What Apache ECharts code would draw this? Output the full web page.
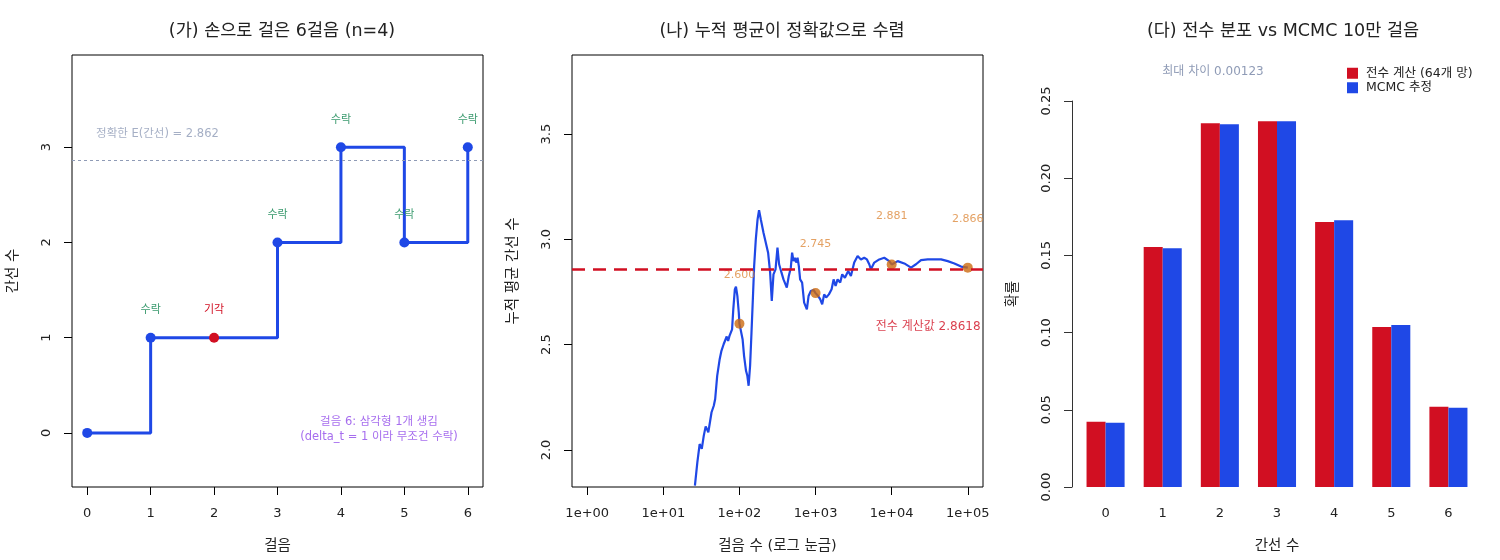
<!DOCTYPE html>
<html>
<head>
<meta charset="utf-8">
<script src="https://cdn.jsdelivr.net/npm/echarts@6.0.0/dist/echarts.min.js"></script>
<style>
  html, body { margin: 0; padding: 0; background: #fff; }
  #chart { width: 1500px; height: 560px; }
</style>
</head>
<body>
<div id="chart"></div>
<script>
// (가) hand walk
const walkSteps = [0, 1, 2, 3, 4, 5, 6];
const walkEdges = [0, 1, 1, 2, 3, 2, 3];
const walkStatus = ['', '수락', '기각', '수락', '수락', '수락', '수락'];
const exactMean = 2.8618;

// (나) running mean
const traceSteps = [26, 28, 30, 32, 34, 36, 39, 40, 43, 46,
    48, 51, 55, 58, 62, 65, 68, 71, 74, 77,
    80, 83, 87, 90, 94, 98, 100, 110, 115, 122,
    127, 132, 138, 144, 150, 156, 164, 173, 181, 191,
    207, 222, 238, 253, 266, 280, 298, 316, 332, 357,
    379, 395, 419, 445, 473, 492, 514, 534, 556, 580,
    603, 627, 666, 708, 769, 809, 867, 942, 1000, 1082,
    1150, 1222, 1298, 1378, 1497, 1625, 1726, 1833, 1946, 2108,
    2239, 2430, 2686, 2913, 3221, 3570, 3945, 4357, 4731, 5075,
    5345, 5906, 6870, 7993, 9298, 10000, 11995, 14655, 17950, 20880,
    24300, 29780, 36360, 44550, 54550, 66680, 81660, 100000];
const traceMeans = [1.831, 1.942, 2.028, 2.005, 2.068, 2.112, 2.084, 2.084, 2.179, 2.210,
    2.242, 2.352, 2.431, 2.471, 2.502, 2.510, 2.539, 2.518, 2.542, 2.534,
    2.573, 2.668, 2.763, 2.776, 2.731, 2.653, 2.600, 2.526, 2.447, 2.376,
    2.352, 2.305, 2.400, 2.558, 2.716, 2.873, 3.000, 3.095, 3.139, 3.095,
    3.032, 2.984, 2.937, 2.842, 2.708, 2.834, 2.858, 2.961, 2.882, 2.842,
    2.810, 2.818, 2.771, 2.826, 2.866, 2.937, 2.897, 2.913, 2.890, 2.913,
    2.873, 2.810, 2.795, 2.700, 2.668, 2.731, 2.755, 2.760, 2.745, 2.731,
    2.716, 2.692, 2.739, 2.724, 2.739, 2.763, 2.810, 2.779, 2.810, 2.795,
    2.834, 2.818, 2.850, 2.826, 2.890, 2.921, 2.905, 2.913, 2.905, 2.882,
    2.858, 2.890, 2.905, 2.913, 2.897, 2.881, 2.897, 2.886, 2.866, 2.882,
    2.902, 2.905, 2.905, 2.905, 2.897, 2.886, 2.871, 2.866];
const checkSteps = [100, 1000, 10000, 100000];
const checkMeans = [2.600, 2.745, 2.881, 2.866];

// (다) distribution
const edgeCounts = ['0', '1', '2', '3', '4', '5', '6'];
const exactProb = [0.0422, 0.1554, 0.2356, 0.2369, 0.1716, 0.1037, 0.0519];
const mcmcProb = [0.0416, 0.1547, 0.2349, 0.2369, 0.1728, 0.1050, 0.0513];
const maxDiff = 0.00123;

const FONT = '"DejaVu Sans", "Noto Sans CJK KR", sans-serif';
const BLUE = '#1f48e6';
const RED = '#d10f22';
const GREEN = '#3a9a6e';
const ORANGE = '#cc6a10';
const PURPLE = '#9048ea';
const GREY = '#8f9bb6';

const chart = echarts.init(document.getElementById('chart'), null, {renderer: 'canvas'});

const tickStyle = {show: true, length: 8, lineStyle: {color: '#000'}};
const labelStyle = {color: '#222', fontSize: 13, fontFamily: FONT};
const nameStyle = {color: '#222', fontSize: 14.5, fontFamily: FONT};

function boxAxis(grid, ticks, extra) {
    return Object.assign({
        gridIndex: grid,
        type: 'value',
        axisLine: {show: false, onZero: false},
        axisTick: Object.assign({customValues: ticks}, tickStyle),
        splitLine: {show: false},
        nameLocation: 'middle',
        nameTextStyle: nameStyle
    }, extra);
}

const walkData = walkSteps.map((s, i) => {
    const rejected = walkStatus[i] === '기각';
    return {
        value: [s, walkEdges[i]],
        itemStyle: {color: rejected ? RED : BLUE},
        label: {
            show: walkStatus[i] !== '',
            formatter: walkStatus[i],
            color: rejected ? RED : GREEN
        }
    };
});

const option = {
    animation: false,
    backgroundColor: '#fff',
    textStyle: {fontFamily: FONT},
    title: [
        {text: '(가) 손으로 걸은 6걸음 (n=4)', left: 277, top: 18, textAlign: 'center'},
        {text: '(나) 누적 평균이 정확값으로 수렴', left: 777, top: 18, textAlign: 'center'},
        {text: '(다) 전수 분포 vs MCMC 10만 걸음', left: 1278, top: 18, textAlign: 'center'}
    ].map(t => Object.assign(t, {textStyle: {fontSize: 17.5, fontWeight: 'normal', color: '#222', fontFamily: FONT}})),
    legend: {
        orient: 'vertical',
        left: 1342,
        top: 62,
        itemWidth: 11,
        itemHeight: 11,
        itemGap: 2,
        icon: 'rect',
        textStyle: {fontSize: 12.5, color: '#222', fontFamily: FONT, padding: [0, 0, 0, 3]},
        data: ['전수 계산 (64개 망)', 'MCMC 추정']
    },
    graphic: [{
        type: 'text',
        x: 1213,
        y: 72,
        style: {
            text: '최대 차이 ' + maxDiff.toFixed(5), fill: GREY, font: '12px ' + FONT,
            align: 'center', verticalAlign: 'middle'
        }
    }],
    grid: [
        {left: 72, top: 55, width: 411, height: 432, show: true, borderColor: '#000', borderWidth: 1},
        {left: 572, top: 55, width: 411, height: 432, show: true, borderColor: '#000', borderWidth: 1},
        {left: 1077, top: 101, width: 400, height: 386}
    ],
    xAxis: [
        boxAxis(0, walkSteps, {
            min: -0.24, max: 6.24, name: '걸음', nameGap: 52,
            axisLabel: Object.assign({margin: 20, customValues: walkSteps}, labelStyle)
        }),
        boxAxis(1, [0, 1, 2, 3, 4, 5], {
            min: -0.2, max: 5.2, name: '걸음 수 (로그 눈금)', nameGap: 52,
            axisLabel: Object.assign({
                margin: 20,
                customValues: [0, 1, 2, 3, 4, 5],
                formatter: v => '1e+' + String(Math.round(v)).padStart(2, '0')
            }, labelStyle)
        }),
        {
            gridIndex: 2,
            type: 'category',
            data: edgeCounts,
            name: '간선 수', nameLocation: 'middle', nameGap: 52,
            nameTextStyle: nameStyle,
            axisLine: {show: false},
            axisTick: {show: false},
            axisLabel: Object.assign({margin: 20}, labelStyle)
        }
    ],
    yAxis: [
        boxAxis(0, [0, 1, 2, 3], {
            min: -0.568, max: 3.968, name: '간선 수', nameGap: 52,
            axisLabel: Object.assign({margin: 19, rotate: 90, customValues: [0, 1, 2, 3]}, labelStyle)
        }),
        boxAxis(1, [2.0, 2.5, 3.0, 3.5], {
            min: 1.824, max: 3.876, name: '누적 평균 간선 수', nameGap: 52,
            axisLabel: Object.assign({
                margin: 19, rotate: 90,
                customValues: [2.0, 2.5, 3.0, 3.5], formatter: v => v.toFixed(1)
            }, labelStyle)
        }),
        {
            gridIndex: 2,
            type: 'value',
            min: 0, max: 0.25, interval: 0.05,
            offset: 5,
            name: '확률', nameLocation: 'middle', nameGap: 52,
            nameTextStyle: nameStyle,
            axisLine: {show: true, lineStyle: {color: '#333'}},
            axisTick: {show: true, length: 8, lineStyle: {color: '#333'}},
            axisLabel: Object.assign({margin: 19, rotate: 90, formatter: v => v.toFixed(2)}, labelStyle),
            splitLine: {show: false}
        }
    ],
    series: [
        {
            type: 'line',
            xAxisIndex: 0, yAxisIndex: 0,
            step: 'end',
            data: walkData,
            symbol: 'circle',
            symbolSize: 10,
            lineStyle: {color: BLUE, width: 3},
            label: {position: 'top', distance: 17, fontSize: 11, fontFamily: FONT},
            markLine: {
                silent: true,
                symbol: ['none', 'none'],
                label: {show: false},
                lineStyle: {color: GREY, width: 1, type: [3, 3]},
                data: [{yAxis: +exactMean.toFixed(3)}]
            },
            z: 3
        },
        {
            type: 'scatter',
            xAxisIndex: 0, yAxisIndex: 0,
            symbolSize: 0,
            data: [[0.14, 3.14]],
            label: {
                show: true, position: 'right', distance: 0,
                formatter: '정확한 E(간선) = ' + exactMean.toFixed(3),
                color: GREY, fontSize: 11.5, fontFamily: FONT
            }
        },
        {
            type: 'scatter',
            xAxisIndex: 0, yAxisIndex: 0,
            symbolSize: 0,
            data: [[4.6, 0.04]],
            label: {
                show: true, position: 'inside',
                formatter: '걸음 6: 삼각형 1개 생김\n(delta_t = 1 이라 무조건 수락)',
                color: PURPLE, fontSize: 11.5, lineHeight: 15, align: 'center', fontFamily: FONT
            }
        },
        {
            type: 'line',
            xAxisIndex: 1, yAxisIndex: 1,
            data: traceSteps.map((n, i) => [Math.log10(n), traceMeans[i]]),
            showSymbol: false,
            clip: true,
            lineStyle: {color: BLUE, width: 2.2},
            markLine: {
                silent: true,
                symbol: ['none', 'none'],
                label: {show: false},
                lineStyle: {color: RED, width: 2.5, type: [13, 8]},
                data: [{yAxis: exactMean}]
            },
            z: 2
        },
        {
            type: 'scatter',
            xAxisIndex: 1, yAxisIndex: 1,
            data: checkSteps.map((n, i) => [Math.log10(n), checkMeans[i]]),
            symbolSize: 10,
            itemStyle: {color: ORANGE},
            label: {
                show: true, position: 'top', distance: 38,
                formatter: p => p.value[1].toFixed(3),
                color: '#dd8a3c', fontSize: 11, fontFamily: FONT
            },
            z: 4
        },
        {
            type: 'scatter',
            xAxisIndex: 1, yAxisIndex: 1,
            symbolSize: 0,
            data: [[4.48, 2.583]],
            label: {
                show: true, position: 'inside',
                formatter: '전수 계산값 ' + exactMean.toFixed(4),
                color: RED, fontSize: 12, fontFamily: FONT
            }
        },
        {
            type: 'bar',
            name: '전수 계산 (64개 망)',
            xAxisIndex: 2, yAxisIndex: 2,
            data: exactProb,
            itemStyle: {color: RED},
            barGap: '0%',
            barCategoryGap: '33.4%'
        },
        {
            type: 'bar',
            name: 'MCMC 추정',
            xAxisIndex: 2, yAxisIndex: 2,
            data: mcmcProb,
            itemStyle: {color: BLUE},
            barGap: '0%',
            barCategoryGap: '33.4%'
        }
    ]
};

chart.setOption(option);
window.addEventListener('resize', chart.resize);
</script>
</body>
</html>
